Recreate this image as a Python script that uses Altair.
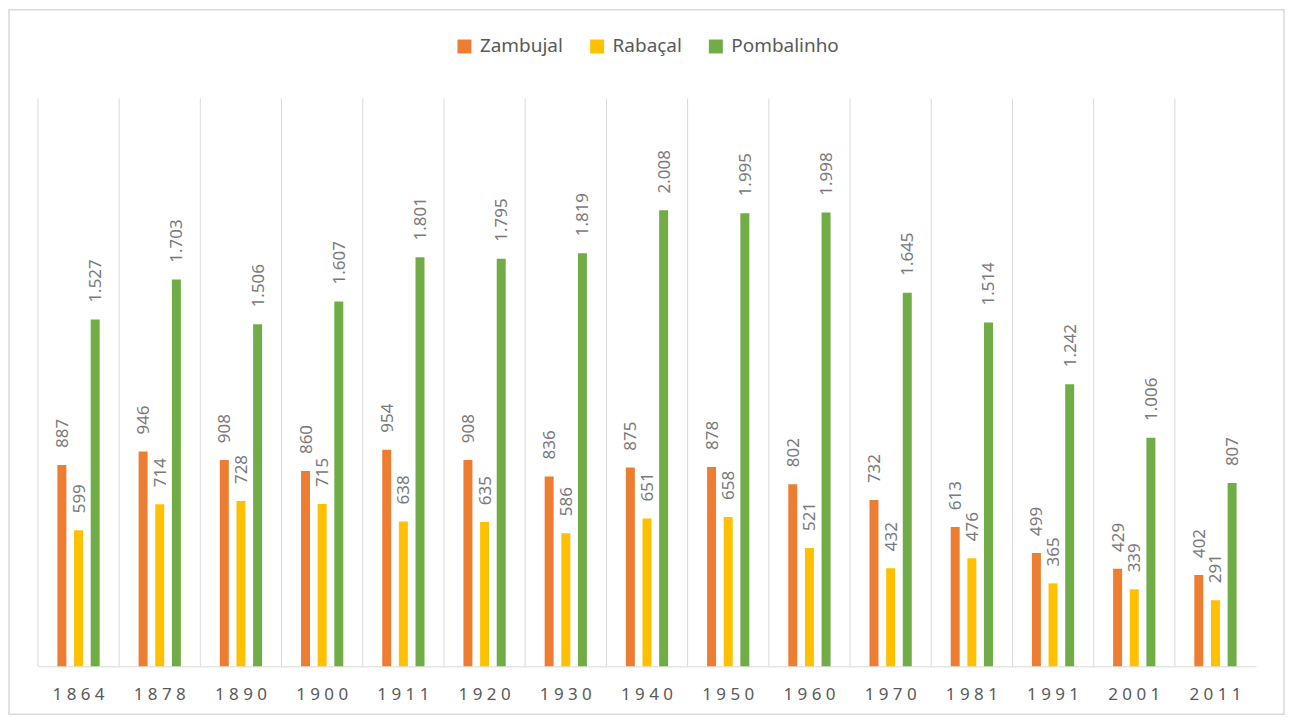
import altair as alt
import pandas as pd

years = ["1864", "1878", "1890", "1900", "1911", "1920", "1930", "1940",
         "1950", "1960", "1970", "1981", "1991", "2001", "2011"]
series = ["Zambujal", "Rabaçal", "Pombalinho"]
zambujal = [887, 946, 908, 860, 954, 908, 836, 875, 878, 802, 732, 613, 499, 429, 402]
rabacal = [599, 714, 728, 715, 638, 635, 586, 651, 658, 521, 432, 476, 365, 339, 291]
pombalinho = [1527, 1703, 1506, 1607, 1801, 1795, 1819, 2008, 1995, 1998, 1645, 1514, 1242, 1006, 807]
colors = ["#ED7D31", "#FFC000", "#70AD47"]

rows = []
for s, vals in zip(series, [zambujal, rabacal, pombalinho]):
    for y, v in zip(years, vals):
        rows.append({"year": y, "serie": s, "value": v})
df = pd.DataFrame(rows)
years_df = pd.DataFrame({"year": years})

W, H = 1221, 569
FONT = "Noto Sans"

xscale = alt.Scale(domain=years, paddingInner=0, paddingOuter=0)
yscale = alt.Scale(domain=[0, 2500], nice=False, zero=True)

x_axis = alt.Axis(labelAngle=0, labelFontSize=17, labelColor="#595959", labelFont=FONT,
                  labelPadding=20, ticks=False, grid=False, domainColor="#d9d9d9",
                  domainWidth=1, bandPosition=0.5,
                  labelExpr="join(split(datum.label, ''), ' ')")
x_enc = alt.X("year:N", sort=years, title=None, scale=xscale, axis=x_axis)
xoff = alt.XOffset("serie:N", sort=series, scale=alt.Scale(domain=series, paddingInner=0, paddingOuter=0.94))
y_enc = alt.Y("value:Q", scale=yscale, axis=None)
color = alt.Color(
    "serie:N", sort=series, scale=alt.Scale(domain=series, range=colors),
    legend=alt.Legend(title=None, orient="none", legendX=418, legendY=-62, direction="horizontal",
                      symbolType="square", symbolSize=196, symbolStrokeWidth=0,
                      labelFontSize=19, labelFont=FONT, labelColor="#595959",
                      labelOffset=6, columnPadding=24),
)

bars = alt.Chart(df).mark_bar(width=9).encode(x=x_enc, xOffset=xoff, y=y_enc, color=color)

grid = alt.Chart(years_df).mark_rule(color="#d9d9d9", strokeWidth=1).encode(
    x=alt.X("year:N", sort=years, bandPosition=0, scale=xscale, title=None, axis=x_axis),
    y=alt.value(0), y2=alt.value(H)
)

labels = alt.Chart(df).transform_calculate(
    lab="replace(format(datum.value, ','), ',', '.')"
).mark_text(angle=270, align="left", baseline="middle", dx=17, dy=1,
            fontSize=17, font=FONT, color="#7a7a7a").encode(
    x=alt.X("year:N", sort=years, scale=xscale, title=None, axis=x_axis),
    xOffset=alt.XOffset("serie:N", sort=series),
    y=alt.Y("value:Q", scale=yscale, axis=None),
    text="lab:N"
)

border = alt.Chart(pd.DataFrame({"a": [0]})).mark_rect(
    fillOpacity=0, stroke="#d9d9d9", strokeWidth=1.5, clip=False
).encode(x=alt.value(-29), x2=alt.value(W + 28), y=alt.value(-89), y2=alt.value(H + 48))

chart = alt.layer(border, bars, grid, labels).properties(
    width=W, height=H, padding=0, background="white"
).configure_view(stroke=None)

chart.save("out.html", embed_options={"renderer": "svg", "actions": False})
